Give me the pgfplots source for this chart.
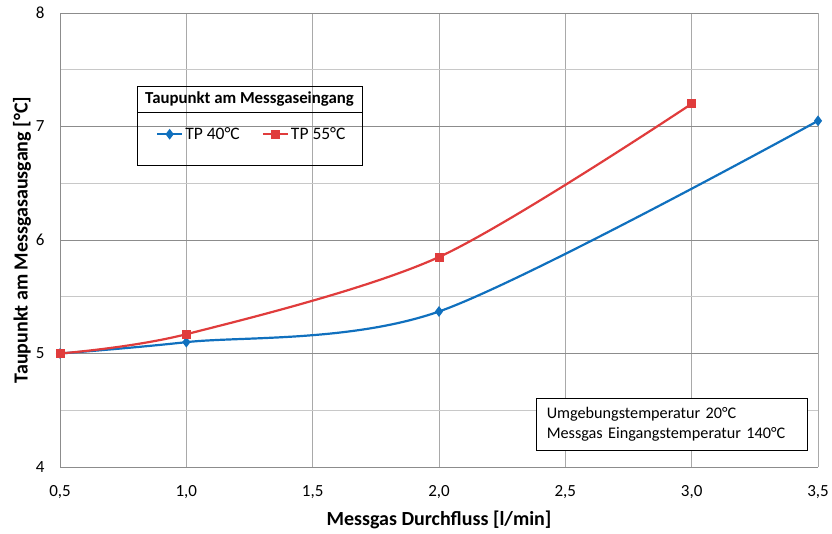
\documentclass[border=0pt]{standalone}
\usepackage{fontspec}
\setmainfont{Carlito}
\usepackage{pgfplots}
\pgfplotsset{compat=1.18}
\definecolor{tpblue}{RGB}{16,112,190}
\definecolor{tpred}{RGB}{224,60,60}
\definecolor{gridmaj}{RGB}{140,140,140}
\definecolor{gridmin}{RGB}{200,200,200}
\begin{document}
\begin{tikzpicture}
\begin{axis}[
    scale only axis,
    width=758pt,
    height=454pt,
    xmin=0.5, xmax=3.5,
    ymin=4, ymax=8,
    xtick={0.5,1,...,3.5},
    ytick={4,5,6,7,8},
    minor ytick={4.5,5.5,6.5,7.5},
    grid=both,
    major grid style={gridmaj, line width=0.8pt},
    minor grid style={gridmin, line width=0.8pt},
    x grid style={gridmaj!75, line width=0.8pt},
    axis line style={gridmaj, line width=0.8pt},
    axis x line*=bottom,
    axis y line*=left,
    tick style={draw=none},
    x axis line style={-},
    y axis line style={-},
    /pgf/number format/assume math mode=true,
    xticklabel style={/pgf/number format/use comma, /pgf/number format/fixed,
        /pgf/number format/fixed zerofill, /pgf/number format/precision=1, yshift=-15pt},
    ticklabel style={font=\fontsize{17}{19}\selectfont},
    yticklabel style={xshift=-12pt},
    xlabel={\textbf{Messgas Durchfluss [l/min]}},
    ylabel={\textbf{Taupunkt am Messgasausgang [°C]}},
    label style={font=\fontsize{20}{22}\selectfont},
    xlabel style={at={(axis description cs:0.5,-0.1167)}, anchor=center},
    ylabel style={at={(axis description cs:-0.0501,0.5)}, anchor=center},
    legend style={draw=none, fill=none, at={(rel axis cs:0.253,0.733)}, anchor=center,
        font=\fontsize{17.5}{19}\selectfont, legend columns=2,
        /tikz/every even column/.append style={column sep=20pt}},
    legend cell align=left,
    legend image code/.code={%
        \draw[mark repeat=2, mark phase=2] plot coordinates {(0pt,0pt) (12.5pt,0pt) (25pt,0pt)};},
]

% TP 40 °C
\addplot[tpblue, line width=2.2pt, smooth, tension=0.5, mark=diamond*, mark size=3.6pt] coordinates {
    (0.5, 5.00) (1.0, 5.10) (2.0, 5.37) (3.5, 7.05)
};

% TP 55 °C
\addplot[tpred, line width=2.2pt, smooth, tension=0.5, mark=square*, mark size=3.4pt] coordinates {
    (0.5, 5.00) (1.0, 5.17) (2.0, 5.85) (3.0, 7.20)
};

\legend{TP 40°C, TP 55°C}

% legend frame with title
\draw[black, line width=0.8pt, fill=none] (rel axis cs:0.1016,0.665) rectangle (rel axis cs:0.3984,0.839);
\draw[black, line width=0.8pt] (rel axis cs:0.1016,0.782) -- (rel axis cs:0.3984,0.782);
\node[font=\fontsize{16.8}{18}\selectfont\bfseries] at (rel axis cs:0.25,0.811) {Taupunkt am Messgaseingang};

% note box
\node[draw=black, line width=0.8pt, fill=white, anchor=south east, align=left,
      font=\fontsize{16.2}{20}\selectfont, inner xsep=10pt, inner ysep=6pt,
      minimum width=271pt, minimum height=52pt, text width=251pt]
    at (rel axis cs:0.987,0.035) {Umgebungstemperatur 20°C\\Messgas Eingangstemperatur 140°C};
\end{axis}
\pgfresetboundingbox
\useasboundingbox ([xshift=-60pt,yshift=-67pt]current axis.south west)
    rectangle ([xshift=14pt,yshift=13pt]current axis.north east);
\end{tikzpicture}
\end{document}
